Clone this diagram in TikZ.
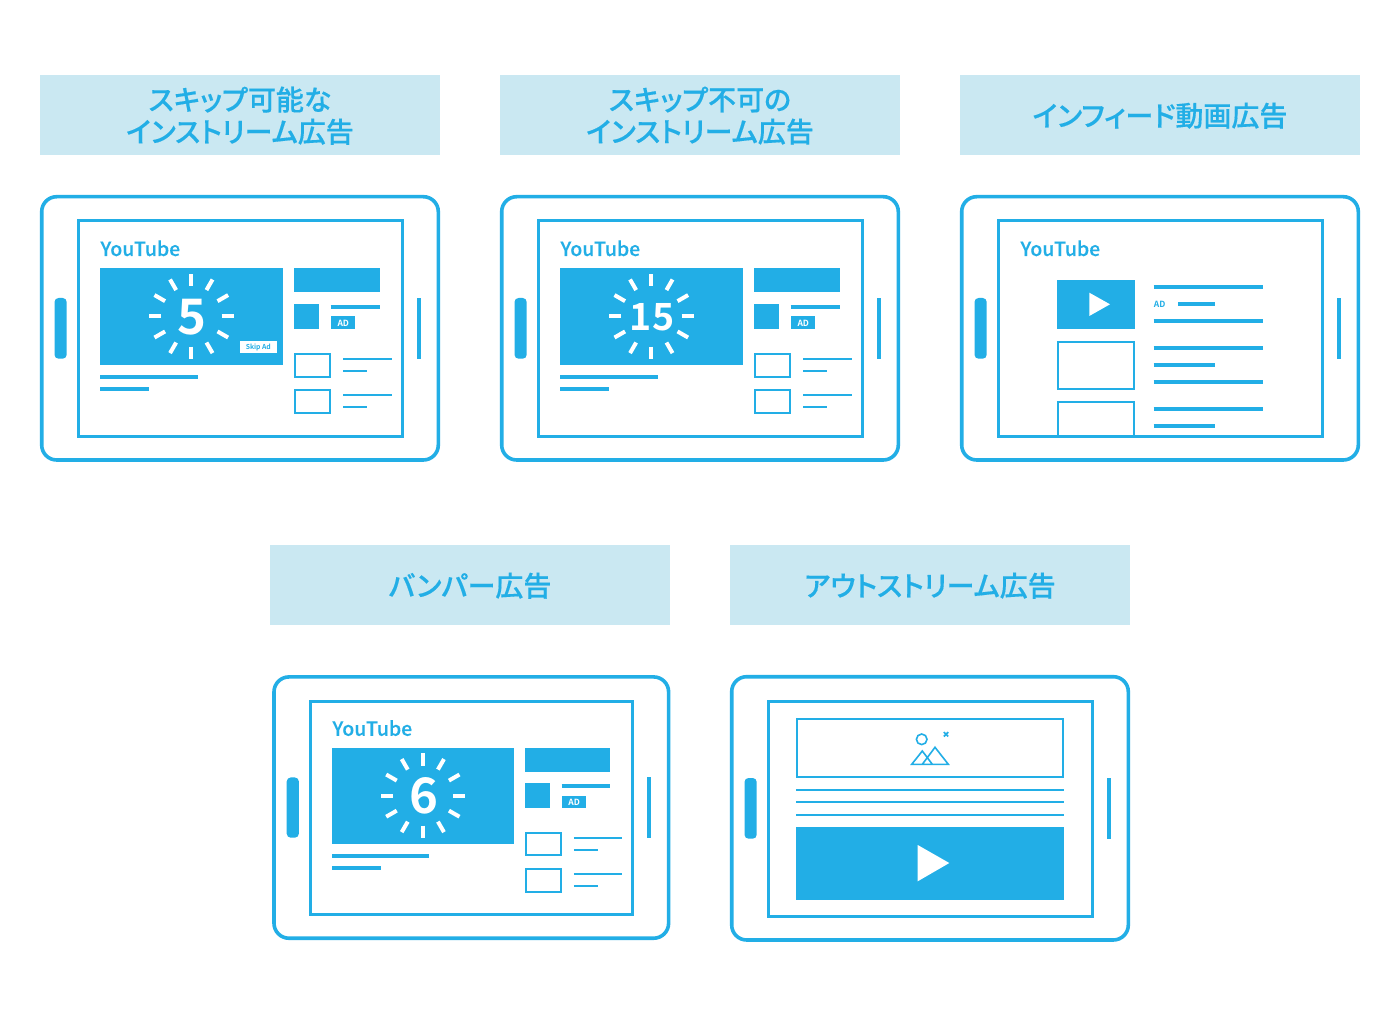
\documentclass[tikz,border=0pt]{standalone}
\usepackage{fontspec}
\usetikzlibrary{calc}
\newfontfamily\cjk[UprightFont=* Medium,FakeBold=0.2,RawFeature=+palt]{Noto Sans CJK JP}
\newfontfamily\cjkhead[UprightFont=* Medium,FakeBold=0.35,RawFeature=+palt]{Noto Sans CJK JP}
\newfontfamily\cjkb[UprightFont=* Bold,RawFeature=+palt]{Noto Sans CJK JP}
\definecolor{adblue}{HTML}{22AEE6}
\definecolor{headbg}{HTML}{CAE8F2}
\tikzset{
  headbox/.style={fill=headbg,draw=none,minimum width=400pt,minimum height=80pt,inner sep=0pt},
  headtext/.style={inner sep=0pt,align=center,text=adblue,font=\cjkhead\fontsize{28}{32}\selectfont},
  tabouter/.style={draw=adblue,line width=3.6pt,rounded corners=15pt,fill=white},
  tabinner/.style={draw=adblue,line width=3pt},
  thick line/.style={draw=adblue,line width=4pt},
  thin line/.style={draw=adblue,line width=2pt},
  solid box/.style={fill=adblue,draw=none},
  ray/.style={draw=white,line width=4pt},
  ytlabel/.style={anchor=base west,inner sep=0pt,text=adblue,font=\cjk\fontsize{19.5}{24}\selectfont},
  digit/.style={inner sep=0pt,anchor=base,text=white},
  adlabel/.style={inner sep=0pt,anchor=center,text=white,font=\cjkb\fontsize{8.5}{10}\selectfont}
}
\newcommand{\headerbox}[4]{%
  \node[headbox] (#1) at (#2,#3) {};
  \node[headtext] (#1t) at (#2,#3+0.7) {#4};
}
\newcommand{\tabletframe}{%
  \path[tabouter] (41.7,196.7) rectangle (438.3,460);
  \path[tabinner] (78,221) rectangle (402,436.5);
  \path[solid box,rounded corners=4pt] (54.5,298) rectangle (66.7,358.7);
  \path[solid box] (416.7,298) rectangle (420.7,358.7);
}
\newcommand{\watchlayout}[4]{%
  \node[ytlabel] (yt#1) at (100.3,256) {YouTube};
  \path[solid box] (100.2,268) rectangle (282.5,365);
  \foreach \a in {0,30,...,330}
    \draw[ray] ($(191.3,316.3)+(\a:30.3pt)$) -- ($(191.3,316.3)+(\a:42.5pt)$);
  \node[digit,font=\cjkb\fontsize{#3}{#3}\selectfont] (digit#1) at (192,#4) {#2};
  \draw[thick line] (100.2,377) -- (197.7,377);
  \draw[thick line] (100.2,389) -- (149,389);
  \path[solid box] (294.2,268) rectangle (379.7,292.3);
  \path[solid box] (294.2,304) rectangle (319,328.7);
  \draw[thick line] (330.7,306.7) -- (379.7,306.7);
  \path[solid box] (330.7,316.3) rectangle (355,328.7);
  \node[adlabel] (ad#1) at (343.3,323) {AD};
  \draw[thin line] (295.2,353.7) rectangle (330.3,376.5);
  \draw[thin line] (295.2,390.3) rectangle (330.3,413);
  \draw[thin line] (343,358.7) -- (391.7,358.7);
  \draw[thin line] (343,370.7) -- (367.3,370.7);
  \draw[thin line] (343,395) -- (391.7,395);
  \draw[thin line] (343,407.3) -- (367.3,407.3);
}
\begin{document}
\begin{tikzpicture}[x=1pt,y=-1pt]
\useasboundingbox (0,0) rectangle (1400,1024);
\fill[white] (0,0) rectangle (1400,1024);

% headers
\headerbox{h1}{240}{115}{スキップ可能な\\インストリーム広告}
\headerbox{h2}{700}{115}{スキップ不可の\\インストリーム広告}
\headerbox{h3}{1160}{115}{インフィード動画広告}
\headerbox{h4}{470}{585}{バンパー広告}
\headerbox{h5}{930}{585}{アウトストリーム広告}

% tablet 1
\begin{scope}
  \tabletframe
  \watchlayout{a}{5}{49}{334.4}
  \path[fill=white] (240,340.7) rectangle (276.7,353);
  \node[inner sep=0pt,text=adblue,font=\cjkb\fontsize{6.8}{8}\selectfont] (skip) at (258.3,347.2) {Skip Ad};
\end{scope}

% tablet 2
\begin{scope}[shift={(460,0)}]
  \tabletframe
  \watchlayout{b}{15}{37.5}{330.3}
\end{scope}

% tablet 3
\begin{scope}[shift={(920,0)}]
  \tabletframe
\end{scope}
\node[ytlabel] (ytc) at (1020.3,256) {YouTube};
\path[solid box] (1056.7,280) rectangle (1134.7,328.7);
\path[fill=white] (1089.3,292.7) -- (1110,304.3) -- (1089.3,316) -- cycle;
\draw[thin line] (1057.7,342) rectangle (1134,388.5);
\draw[thin line] (1057.7,436.7) -- (1057.7,402.3) -- (1134,402.3) -- (1134,436.7);
\draw[thick line] (1153.7,287.3) -- (1263,287.3);
\draw[thick line] (1153.7,321.3) -- (1263,321.3);
\draw[thick line] (1153.7,348) -- (1263,348);
\draw[thick line] (1153.7,382) -- (1263,382);
\draw[thick line] (1153.7,408.7) -- (1263,408.7);
\draw[thick line] (1153.7,365) -- (1214.7,365);
\draw[thick line] (1153.7,425.7) -- (1214.7,425.7);
\draw[thick line] (1178,304.3) -- (1214.7,304.3);
\node[anchor=west,inner sep=0pt,text=adblue,font=\cjkb\fontsize{8.5}{10}\selectfont] (adc) at (1153.7,304.6) {AD};

% tablet 4
\begin{scope}[shift={(232.5,480.7)}]
  \begin{scope}[xscale=0.995,yscale=0.9925,shift={(0,1)}]
    \tabletframe
    \watchlayout{d}{6}{49}{334.4}
  \end{scope}
\end{scope}

% tablet 5
\begin{scope}[shift={(690,480)}]
  \tabletframe
\end{scope}
\draw[thin line] (797.2,719) rectangle (1062.7,777.3);
\draw[thin line] (796.2,790.3) -- (1063.5,790.3);
\draw[thin line] (796.2,802.3) -- (1063.5,802.3);
\draw[thin line] (796.2,814.7) -- (1063.5,814.7);
\path[solid box] (796.2,826.7) rectangle (1063.5,899.7);
\path[fill=white] (917.7,845) -- (949.3,863) -- (917.7,881.3) -- cycle;
\draw[draw=adblue,line width=1.6pt] (921.7,739.3) circle[radius=5.3pt];
\draw[draw=adblue,line width=1.7pt] (943.8,732.1) -- (948.2,736.5) (948.2,732.1) -- (943.8,736.5);
\draw[draw=adblue,line width=1.6pt,line join=miter]
  (932.3,764.3) -- (922.3,751) -- (911.7,764.3) -- (948.3,764.3) -- (935,747.3) -- (922.3,764.3);
\end{tikzpicture}
\end{document}
